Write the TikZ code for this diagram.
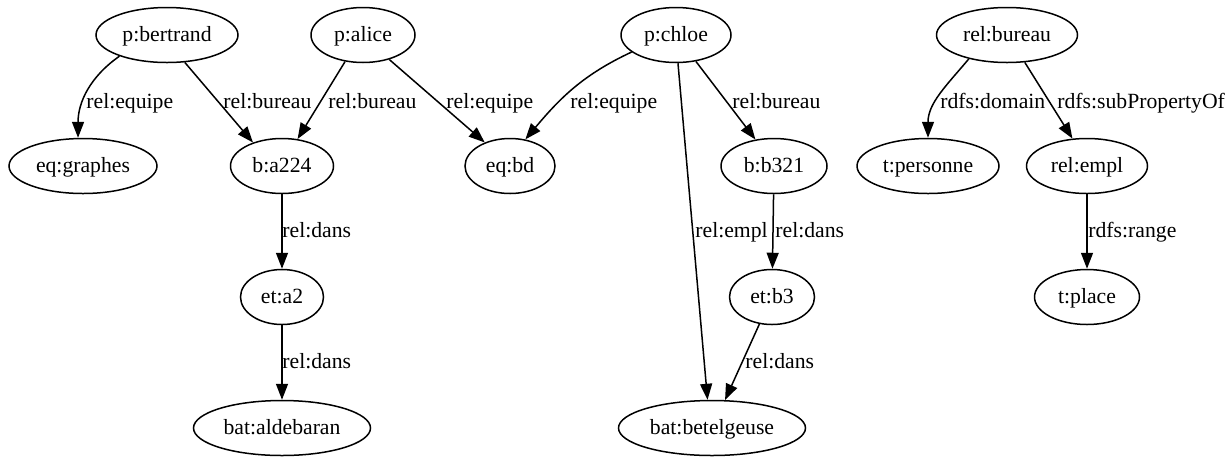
\documentclass[tikz,border=0pt]{standalone}
\usepackage{fontspec}
\setmainfont{Liberation Serif}
\usetikzlibrary{arrows.meta,shapes.geometric}
\begin{document}
\begin{tikzpicture}[x=0.5pt,y=-0.5pt,
  every node/.style={font=\fontsize{10.85}{13}\selectfont},
  nd/.style={draw, ellipse, line width=0.75pt, minimum height=27.5pt, inner sep=0pt, text height=8.5pt, text depth=2pt},
  lbl/.style={anchor=base west, inner sep=0pt},
  edge/.style={line width=0.75pt, -{Triangle[length=8pt,width=6pt]}}]
\useasboundingbox (0,0) rectangle (1230,456);
% row 1
\node[nd, minimum width=71pt] (bertrand) at (167,35) {p:bertrand};
\node[nd, minimum width=52pt] (alice) at (363,35) {p:alice};
\node[nd, minimum width=55pt] (chloe) at (676,35) {p:chloe};
\node[nd, minimum width=70.5pt] (bureau) at (1007,35) {rel:bureau};
% row 2
\node[nd, minimum width=74pt] (graphes) at (83,166) {eq:graphes};
\node[nd, minimum width=51.5pt] (a224) at (282,166) {b:a224};
\node[nd, minimum width=45pt] (bd) at (510,166) {eq:bd};
\node[nd, minimum width=53pt] (b321) at (774,166) {b:b321};
\node[nd, minimum width=71pt] (personne) at (928,166) {t:personne};
\node[nd, minimum width=60.5pt] (empl) at (1087,166) {rel:empl};
% row 3
\node[nd, minimum width=41.5pt] (a2) at (282,297) {et:a2};
\node[nd, minimum width=42.5pt] (b3) at (772,297) {et:b3};
\node[nd, minimum width=52.5pt] (place) at (1087,297) {t:place};
% row 4
\node[nd, minimum width=88.5pt] (aldebaran) at (282,428) {bat:aldebaran};
\node[nd, minimum width=93.5pt] (betelgeuse) at (712,428) {bat:betelgeuse};
% edges
\draw[edge] (bertrand.204) to[out=215,in=90] (graphes.100);
\draw[edge] (bertrand.-57) -- (a224.141.6);
\draw[edge] (alice.236) -- (a224.60);
\draw[edge] (alice.-43) -- (bd.137);
\draw[edge] (chloe.201) to[out=205,in=50] (bd.60);
\draw[edge] (chloe.-53.5) -- (b321.125);
\draw[edge] (chloe.-86) -- (betelgeuse.99);
\draw[edge] (bureau.212) to[out=230,in=90] (personne.90);
\draw[edge] (bureau.-57) -- (empl.118);
\draw[edge] (a224) -- (a2);
\draw[edge] (a2) -- (aldebaran);
\draw[edge] (b321) -- (b3);
\draw[edge] (b3.245) -- (betelgeuse.65);
\draw[edge] (empl) -- (place);
% labels
\node[lbl] (l1) at (86,108) {rel:equipe};
\node[lbl] (l2) at (223,108) {rel:bureau};
\node[lbl] (l3) at (328,108) {rel:bureau};
\node[lbl] (l4) at (446,108) {rel:equipe};
\node[lbl] (l5) at (570,108) {rel:equipe};
\node[lbl] (l6) at (732,108) {rel:bureau};
\node[lbl] (l7) at (940,108) {rdfs:domain};
\node[lbl] (l8) at (1057,108) {rdfs:subPropertyOf};
\node[lbl] (l9) at (282,237) {rel:dans};
\node[lbl] (l10) at (282,368) {rel:dans};
\node[lbl] (l11) at (695,237) {rel:empl};
\node[lbl] (l12) at (775,237) {rel:dans};
\node[lbl] (l13) at (745,368) {rel:dans};
\node[lbl] (l14) at (1088,237) {rdfs:range};
\end{tikzpicture}
\end{document}
